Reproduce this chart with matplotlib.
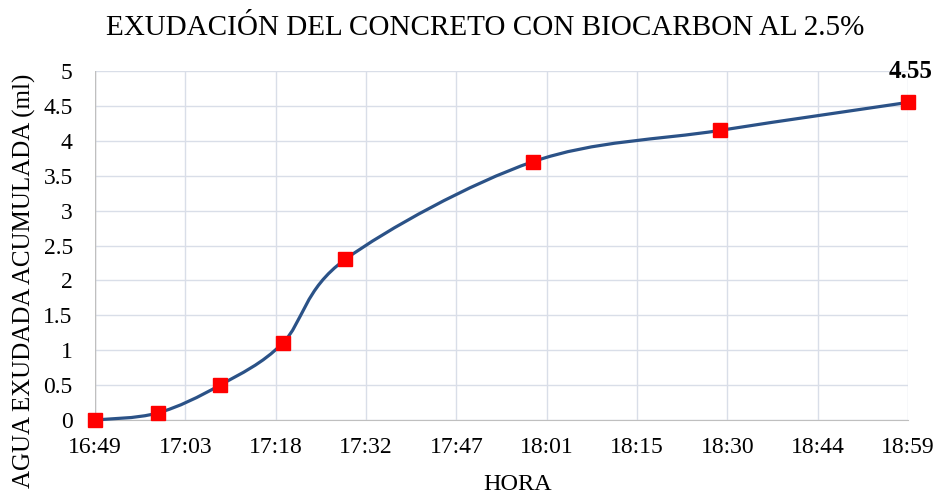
import numpy as np
import matplotlib
matplotlib.use("Agg")
import matplotlib.pyplot as plt
from matplotlib.path import Path
from matplotlib.patches import PathPatch

times = ["16:49", "16:59", "17:09", "17:19", "17:29", "17:59", "18:29", "18:59"]
values = [0, 0.1, 0.5, 1.1, 2.3, 3.7, 4.15, 4.55]
xtick_labels = ["16:49", "17:03", "17:18", "17:32", "17:47", "18:01", "18:15", "18:30", "18:44", "18:59"]
title = "EXUDACIÓN DEL CONCRETO CON BIOCARBON AL 2.5%"
xlabel = "HORA"
ylabel = "AGUA EXUDADA ACUMULADA (ml)"

def to_min(t):
    h, m = t.split(":")
    return int(h) * 60 + int(m)

x = np.array([to_min(t) for t in times], dtype=float)
y = np.array(values, dtype=float)

plt.rcParams['font.family'] = ['Liberation Serif', 'DejaVu Serif']

fig = plt.figure(figsize=(9.39, 4.95), dpi=100)
ax = fig.add_axes([95/939, 1-420/495, (908-95)/939, (420-71)/495])

# Excel-like smoothed line: Catmull-Rom bezier
verts = [(x[0], y[0])]
codes = [Path.MOVETO]
n = len(x)
for i in range(n - 1):
    p0 = np.array([x[max(i-1, 0)], y[max(i-1, 0)]])
    p1 = np.array([x[i], y[i]])
    p2 = np.array([x[i+1], y[i+1]])
    p3 = np.array([x[min(i+2, n-1)], y[min(i+2, n-1)]])
    c1 = p1 + (p2 - p0) / 6.0
    c2 = p2 - (p3 - p1) / 6.0
    verts += [tuple(c1), tuple(c2), tuple(p2)]
    codes += [Path.CURVE4] * 3
ax.add_patch(PathPatch(Path(verts, codes), facecolor='none', edgecolor='#2B5287', lw=2.3, zorder=3, clip_on=False))
ax.plot(x, y, linestyle='none', marker='s', markersize=10, color='#FF0000', zorder=4, clip_on=False)

ax.annotate(f"{values[-1]:.2f}", (x[-1], y[-1]), xytext=(2, 22), textcoords='offset points',
            ha='center', va='center', fontsize=18, fontweight='bold')

xmin, xmax = x[0], x[-1]
ax.set_xlim(xmin, xmax)
ax.set_ylim(0, 5)
ax.set_xticks(np.linspace(xmin, xmax, len(xtick_labels)))
ax.set_xticklabels(xtick_labels)
ax.set_yticks(np.arange(0, 5.01, 0.5))
ax.set_yticklabels(["0", "0.5", "1", "1.5", "2", "2.5", "3", "3.5", "4", "4.5", "5"])
ax.tick_params(axis='both', length=0, labelsize=17, colors='#000000')
ax.tick_params(axis='x', pad=12)
ax.tick_params(axis='y', pad=16)
ax.grid(True, color='#D9DEE8', lw=1)
ax.set_axisbelow(True)
for s in ['top', 'right', 'left']:
    ax.spines[s].set_visible(False)
ax.spines['bottom'].set_color('#BFBFBF')
ax.axvline(xmin, color='#BFBFBF', lw=1, zorder=1)

fig.text(485/939, 1-28/495, title, ha='center', va='center', fontsize=21)
fig.text(518/939, 1-485/495, xlabel, ha='center', va='center', fontsize=17.5)
fig.text(24/939, 1-281/495, ylabel, ha='center', va='center', rotation=90, fontsize=18)

fig.savefig("out.png", dpi=100)
